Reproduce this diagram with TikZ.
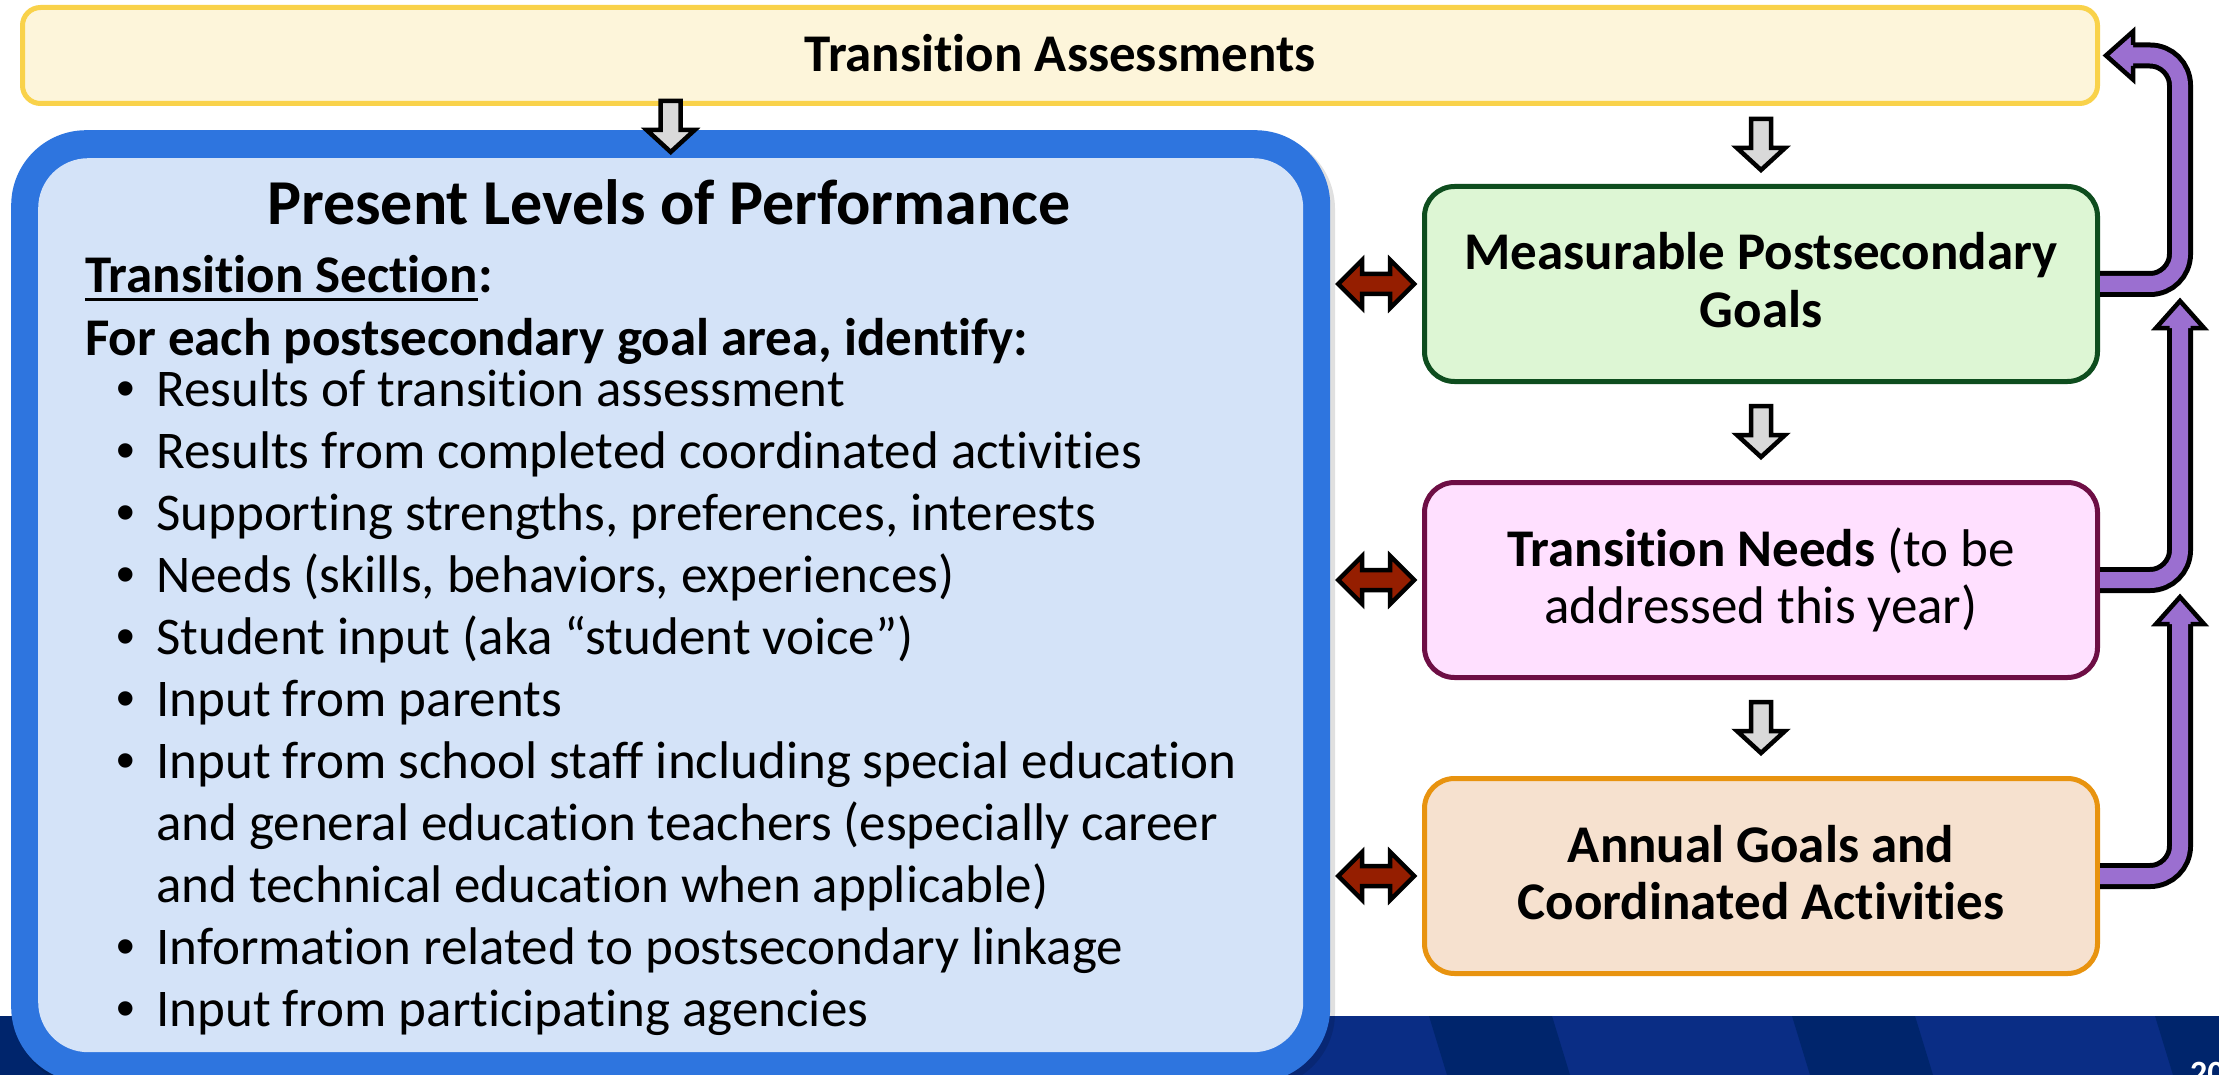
\documentclass[tikz,border=0pt]{standalone}
\usepackage{fontspec}
\setmainfont{Carlito}[Ligatures=NoCommon]
\newfontfamily\bulletfont{Liberation Sans}
\usetikzlibrary{calc}
\definecolor{pblue}{HTML}{2E75DF}
\definecolor{plight}{HTML}{D4E3F8}
\definecolor{yfill}{HTML}{FDF5DA}
\definecolor{ybord}{HTML}{F9D24A}
\definecolor{gfill}{HTML}{DDF6D4}
\definecolor{gbord}{HTML}{0E4D1E}
\definecolor{pkfill}{HTML}{FFE0FF}
\definecolor{pkbord}{HTML}{6E0E45}
\definecolor{ofill}{HTML}{F6E1CF}
\definecolor{obord}{HTML}{E8930F}
\definecolor{ppurple}{HTML}{9B6FD0}
\definecolor{ared}{HTML}{951E00}
\definecolor{agray}{HTML}{D9D9D9}
\definecolor{barlight}{HTML}{0A2D85}
\definecolor{bardark}{HTML}{00256C}
\newcommand\bodyfont{\fontsize{53}{62}\selectfont}
\newcommand\titlefont{\fontsize{64}{70}\selectfont}
\tikzset{
  stepbox/.style={rectangle, rounded corners=30, line width=5, minimum width=673, minimum height=195, inner sep=0},
  boxtext/.style={anchor=base, inner sep=0, font=\bodyfont},
  bodytext/.style={anchor=base west, inner sep=0, font=\bodyfont},
  bulletdot/.style={anchor=base, inner sep=0, font=\bulletfont\bodyfont},
  grayarr/.pic={\filldraw[fill=agray, draw=black, line width=4.5, line join=miter]
     (-10,-26) -- (-10,3) -- (-24,3) -- (0,25) -- (24,3) -- (10,3) -- (10,-26) -- cycle;},
  redarr/.pic={\filldraw[fill=ared, draw=black, line width=4.5, line join=miter]
     (-38,0) -- (-14,-24) -- (-14,-10) -- (14,-10) -- (14,-24) -- (38,0) -- (14,24) -- (14,10) -- (-14,10) -- (-14,24) -- cycle;},
  pshaft/.style={draw=black, line width=5, double=ppurple, double distance=16, rounded corners=30},
  phead/.style={fill=ppurple, draw=black, line width=4.5, line join=miter}
}
\begin{document}
\begin{tikzpicture}[x=1pt,y=-1pt]
\clip (0,0) rectangle (2219,1075);
\fill[white] (0,0) rectangle (2219,1075);
% bottom bar
\fill[barlight] (0,1016) rectangle (2219,1075);
\foreach \s in {-23,340,703,1066,1429,1792,2155}
  \fill[bardark] (\s,1016) -- (\s+123,1016) -- (\s+141,1075) -- (\s+18,1075) -- cycle;
\node[anchor=base west, inner sep=0, text=white, font=\bfseries\fontsize{34}{34}\selectfont] (pnum) at (2190,1084) {20};
% present levels box
\fill[black, opacity=0.12, rounded corners=75] (15,134) rectangle (1335,1088);
\node[fill=pblue, rounded corners=75, minimum width=1319, minimum height=952, anchor=north west, inner sep=0] (plop) at (11,130) {};
\node[fill=plight, rounded corners=50, minimum width=1265, minimum height=894, anchor=north west, inner sep=0] (plopin) at (38,158) {};
\node[anchor=base, inner sep=0, font=\bfseries\titlefont] (title) at (669,225) {Present Levels of Performance};
\node[bodytext, font=\bfseries\bodyfont] (tsec) at (85,293) {Transition Section};
\node[bodytext, font=\bfseries\bodyfont] (tcolon) at (tsec.base east) {:};
\draw[line width=3] ($(tsec.base west)+(0,7)$) -- ($(tsec.base east)+(0,7)$);
\node[bodytext, font=\bfseries\bodyfont] (foreach) at (85,355) {For each postsecondary goal area, identify:};
\node[bulletdot] (d1) at (126,406) {•};
\node[bodytext] (b1) at (156,406) {Results of transition assessment};
\node[bulletdot] (d2) at (126,468) {•};
\node[bodytext] (b2) at (156,468) {Results from completed coordinated activities};
\node[bulletdot] (d3) at (126,530) {•};
\node[bodytext] (b3) at (156,530) {Supporting strengths, preferences, interests};
\node[bulletdot] (d4) at (126,592) {•};
\node[bodytext] (b4) at (156,592) {Needs (skills, behaviors, experiences)};
\node[bulletdot] (d5) at (126,654) {•};
\node[bodytext] (b5) at (156,654) {Student input (aka “student voice”)};
\node[bulletdot] (d6) at (126,716) {•};
\node[bodytext] (b6) at (156,716) {Input from parents};
\node[bulletdot] (d7) at (126,778) {•};
\node[bodytext] (b7) at (156,778) {Input from school staff including special education};
\node[bodytext] (b7b) at (156,840) {and general education teachers (especially career};
\node[bodytext] (b7c) at (156,902) {and technical education when applicable)};
\node[bulletdot] (d8) at (126,964) {•};
\node[bodytext] (b8) at (156,964) {Information related to postsecondary linkage};
\node[bulletdot] (d9) at (126,1026) {•};
\node[bodytext] (b9) at (156,1026) {Input from participating agencies};
% banner
\node[rectangle, rounded corners=18, line width=5, draw=ybord, fill=yfill, minimum width=2075, minimum height=96, inner sep=0] (assess) at (1060,55.5) {};
\node[boxtext, font=\bfseries\bodyfont] (assesst) at ($(assess.center)+(0,16)$) {Transition Assessments};
% right boxes
\node[stepbox, draw=gbord, fill=gfill] (goals) at (1761,284) {};
\node[boxtext, font=\bfseries\bodyfont] (goalsa) at ($(goals.center)+(0,-14)$) {Measurable Postsecondary};
\node[boxtext, font=\bfseries\bodyfont] (goalsb) at ($(goals.center)+(0,43)$) {Goals};
\node[stepbox, draw=pkbord, fill=pkfill] (needs) at (1761,580) {};
\node[boxtext] (needsa) at ($(needs.center)+(0,-14)$) {\textbf{Transition Needs} (to be};
\node[boxtext] (needsb) at ($(needs.center)+(0,43)$) {addressed this year)};
\node[stepbox, draw=obord, fill=ofill] (annual) at (1761,876) {};
\node[boxtext, font=\bfseries\bodyfont] (annuala) at ($(annual.center)+(0,-14)$) {Annual Goals and};
\node[boxtext, font=\bfseries\bodyfont] (annualb) at ($(annual.center)+(0,43)$) {Coordinated Activities};
% gray down arrows
\pic at ($(plop.north |- assess.south)+(0,21)$) {grayarr};
\pic at ($(goals.north |- assess.south)!0.5!(goals.north)$) {grayarr};
\pic at ($(goals.south)!0.5!(needs.north)$) {grayarr};
\pic at ($(needs.south)!0.5!(annual.north)$) {grayarr};
% red double arrows
\pic at ($(plop.east |- goals.west)!0.5!(goals.west)$) {redarr};
\pic at ($(plop.east |- needs.west)!0.5!(needs.west)$) {redarr};
\pic at ($(plop.east |- annual.west)!0.5!(annual.west)$) {redarr};
% purple connectors
\coordinate (vx) at (2180,0);
\coordinate (tipA) at ($(assess.east)+(6,0)$);
\draw[pshaft] (goals.east) -- (goals.east -| vx) -- (vx |- tipA) -- ($(tipA)+(27,0)$);
\filldraw[phead] ($(tipA)+(27,-10.5)$) -- ($(tipA)+(27,-24)$) -- (tipA) -- ($(tipA)+(27,24)$) -- ($(tipA)+(27,10.5)$);
\coordinate (tipB) at ($(vx |- goals.east)+(0,17)$);
\draw[pshaft] (needs.east) -- (needs.east -| vx) -- ($(tipB)+(0,27)$);
\filldraw[phead] ($(tipB)+(-10.5,27)$) -- ($(tipB)+(-24,27)$) -- (tipB) -- ($(tipB)+(24,27)$) -- ($(tipB)+(10.5,27)$);
\coordinate (tipC) at ($(vx |- needs.east)+(0,17)$);
\draw[pshaft] (annual.east) -- (annual.east -| vx) -- ($(tipC)+(0,27)$);
\filldraw[phead] ($(tipC)+(-10.5,27)$) -- ($(tipC)+(-24,27)$) -- (tipC) -- ($(tipC)+(24,27)$) -- ($(tipC)+(10.5,27)$);
\end{tikzpicture}
\end{document}
